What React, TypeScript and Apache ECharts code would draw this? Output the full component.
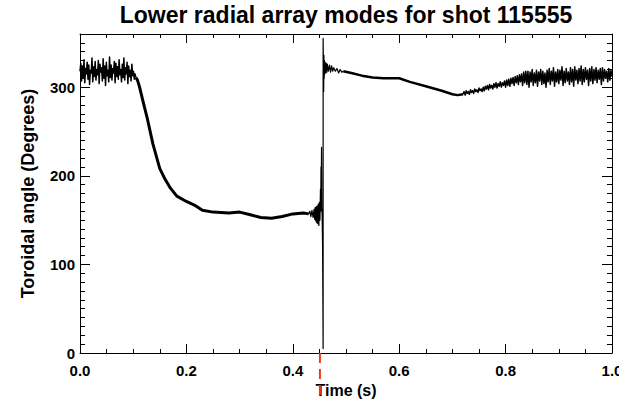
import React, { useEffect, useRef } from "react";
import * as echarts from "echarts";

const TITLE = "Lower radial array modes for shot 115555";
const X_NAME = "Time (s)";
const Y_NAME = "Toroidal angle (Degrees)";
const X_MIN = 0;
const X_MAX = 1;
const X_MAJOR = 0.2;
const Y_MIN = 0;
const Y_MAX = 360;
const Y_MAJOR = 100;
const Y_MINOR = 10;
const MARKER_TIME = 0.451;

// Noisy plateau, sampled every 0.0015 s from t = 0
const plateauStart = 0;
const plateauStep = 0.0015;
const plateauAngles = [
  318, 327, 307, 324, 311, 331, 305, 321, 315, 328,
  309, 325, 303, 319, 316, 333, 306, 323, 312, 329,
  308, 320, 314, 330, 304, 326, 317, 322, 307, 332,
  310, 324, 302, 328, 313, 319, 306, 334, 311, 325,
  308, 321, 316, 329, 305, 327, 312, 323, 309, 331,
  314, 320, 306, 326, 311, 333, 308, 322, 315, 328,
  304, 324, 312, 319, 307, 326, 313, 318, 309, 315,
  311,
];

// Decay towards the low plateau
const decayTimes = [
  0.105, 0.108, 0.112, 0.118, 0.126, 0.137, 0.15, 0.16, 0.17, 0.182, 0.2, 0.215,
  0.23, 0.25, 0.28, 0.3, 0.32, 0.34, 0.36, 0.38, 0.4, 0.42, 0.43,
];
const decayAngles = [
  311, 308, 300, 285, 266, 236, 208, 196, 186, 177, 171, 167,
  161, 159, 158, 159, 156, 153, 152, 154, 157, 158, 157,
];

// Jump region
const jumpTimes = [
  0.43, 0.432, 0.434, 0.436, 0.438, 0.44, 0.441, 0.442, 0.443, 0.444,
  0.445, 0.446, 0.447, 0.448, 0.449, 0.45, 0.451, 0.452, 0.4525, 0.453,
  0.4535, 0.454, 0.4545, 0.455, 0.456, 0.457, 0.457, 0.458, 0.4585, 0.459,
  0.4595, 0.46, 0.461, 0.462, 0.463, 0.464, 0.465, 0.467, 0.469, 0.471,
  0.473, 0.475, 0.477, 0.48, 0.483, 0.486, 0.489, 0.492, 0.495,
];
const jumpAngles = [
  157, 160, 154, 161, 153, 162, 151, 164, 149, 165,
  147, 166, 146, 168, 144, 170, 150, 185, 160, 210,
  170, 232, 165, 158, 120, 5, 355, 295, 336, 310,
  330, 315, 328, 316, 327, 317, 326, 318, 325, 317,
  324, 318, 322, 318, 321, 316, 320, 317, 318,
];

// Slow drift after the jump
const driftTimes = [0.495, 0.51, 0.53, 0.55, 0.57, 0.6, 0.62, 0.65, 0.68, 0.7, 0.71, 0.72];
const driftAngles = [318, 316, 313, 311, 310, 310, 306, 301, 296, 292, 291, 292];

// Noisy tail, sampled every 0.002 s from t = 0.72
const tailStart = 0.72;
const tailStep = 0.002;
const tailAngles = [
  292, 295, 291, 296, 293, 295, 292, 297, 294, 296, 293, 298, 295, 297, 294, 299, 296, 298, 295, 300,
  296, 301, 298, 302, 297, 303, 299, 302, 298, 304, 300, 305, 299, 304, 301, 306, 300, 305, 302, 307,
  300, 308, 302, 309, 301, 310, 304, 311, 302, 312, 305, 313, 303, 314, 306, 315, 302, 317, 305, 318,
  303, 318, 300, 317, 306, 320, 302, 316, 305, 319, 301, 317, 307, 320, 303, 318, 304, 316, 300, 319,
  306, 321, 303, 318, 307, 322, 301, 317, 306, 320, 304, 319, 308, 323, 302, 318, 305, 321, 307, 317,
  303, 322, 306, 320, 301, 323, 308, 319, 304, 321, 307, 324, 303, 320, 306, 322, 309, 319, 302, 321,
  307, 323, 304, 320, 308, 322, 305, 319, 309, 321, 303, 322, 307, 320, 310, 318, 306, 321, 308, 319,
  312,
];

const FONT = "'Liberation Sans', Arial, Helvetica, sans-serif";

export default function App() {
  const ref = useRef<HTMLDivElement>(null);

  useEffect(() => {
    if (!ref.current) return;
    const chart = echarts.init(ref.current, null, { renderer: "svg" });

    const plateau = plateauAngles.map((v, i) => [plateauStart + i * plateauStep, v]);
    const decay = decayTimes.map((t, i) => [t, decayAngles[i]]);
    const jump = jumpTimes.map((t, i) => [t, jumpAngles[i]]);
    const drift = driftTimes.map((t, i) => [t, driftAngles[i]]);
    const tail = tailAngles.map((v, i) => [tailStart + i * tailStep, v]);

    const line = (name: string, data: number[][], width: number) => ({
      name,
      type: "line",
      data,
      xAxisIndex: 0,
      yAxisIndex: 0,
      symbol: "none",
      showSymbol: false,
      silent: true,
      lineStyle: { color: "#000", width, join: "round" },
      itemStyle: { color: "#000" },
      z: 3,
    });

    const black = { color: "#000", width: 1 };
    const labelStyle = { color: "#000", fontFamily: FONT, fontWeight: "bold", fontSize: 15 };
    const nameStyle = { color: "#000", fontFamily: FONT, fontWeight: "bold", fontSize: 16 };

    const xAxisBase = {
      type: "value",
      min: X_MIN,
      max: X_MAX,
      interval: X_MAJOR,
      axisLine: { show: true, onZero: false, lineStyle: black },
      axisTick: { show: true, inside: true, length: 9, lineStyle: black },
      minorTick: { show: true, splitNumber: 4, length: 4, lineStyle: black },
      splitLine: { show: false },
      minorSplitLine: { show: false },
    };
    const yMajorBase = {
      type: "value",
      min: Y_MIN,
      max: Y_MAX,
      interval: Y_MAJOR,
      offset: 0,
      axisLine: { show: true, onZero: false, lineStyle: black },
      axisTick: { show: true, inside: true, length: 10, lineStyle: black },
      splitLine: { show: false },
    };
    const yMinorBase = {
      type: "value",
      min: Y_MIN,
      max: Y_MAX,
      interval: Y_MINOR,
      offset: 0,
      axisLine: { show: false, onZero: false },
      axisTick: { show: true, inside: true, length: 5, lineStyle: black },
      axisLabel: { show: false },
      splitLine: { show: false },
    };

    chart.setOption({
      animation: false,
      backgroundColor: "#fff",
      grid: {
        left: 80,
        right: 7,
        top: 34,
        bottom: 46,
        containLabel: false,
        outerBoundsMode: "none",
      },
      xAxis: [
        {
          ...xAxisBase,
          position: "bottom",
          axisLabel: {
            ...labelStyle,
            margin: 10,
            formatter: (v: number) => v.toFixed(1),
          },
          name: X_NAME,
          nameLocation: "middle",
          nameGap: 20,
          nameTextStyle: nameStyle,
        },
        {
          ...xAxisBase,
          position: "top",
          axisLabel: { show: false },
        },
      ],
      yAxis: [
        {
          ...yMajorBase,
          position: "left",
          axisLabel: { ...labelStyle, margin: 5, showMaxLabel: false },
          name: Y_NAME,
          nameLocation: "middle",
          nameGap: 43,
          nameTextStyle: { ...nameStyle, fontSize: 18 },
        },
        { ...yMinorBase, position: "left" },
        { ...yMajorBase, position: "right", axisLabel: { show: false } },
        { ...yMinorBase, position: "right" },
      ],
      series: [
        line("plateau", plateau, 1.5),
        line("decay", decay, 3),
        line("jump", jump, 1.2),
        line("drift", drift, 2.5),
        line("tail", tail, 1.5),
      ],
    });

    const p = chart.convertToPixel({ seriesIndex: 0 }, [MARKER_TIME, Y_MIN]) as number[];
    const titleCenter = chart.convertToPixel({ seriesIndex: 0 }, [(X_MIN + X_MAX) / 2, Y_MAX]) as number[];
    chart.setOption({
      graphic: [
        {
          type: "text",
          x: titleCenter[0],
          y: 3,
          style: {
            text: TITLE,
            fill: "#000",
            font: `bold 23px ${FONT}`,
            textAlign: "center",
            textVerticalAlign: "top",
          },
        },
        {
          type: "line",
          shape: { x1: p[0], y1: p[1], x2: p[0], y2: 399 },
          style: { stroke: "#ec3a1f", lineWidth: 2, lineDash: [10, 6] },
          z: 10,
        },
      ],
    });

    return () => chart.dispose();
  }, []);

  return (
    <div
      ref={ref}
      style={{ position: "fixed", left: 0, top: 0, width: 619, height: 399, background: "#fff" }}
    />
  );
}
